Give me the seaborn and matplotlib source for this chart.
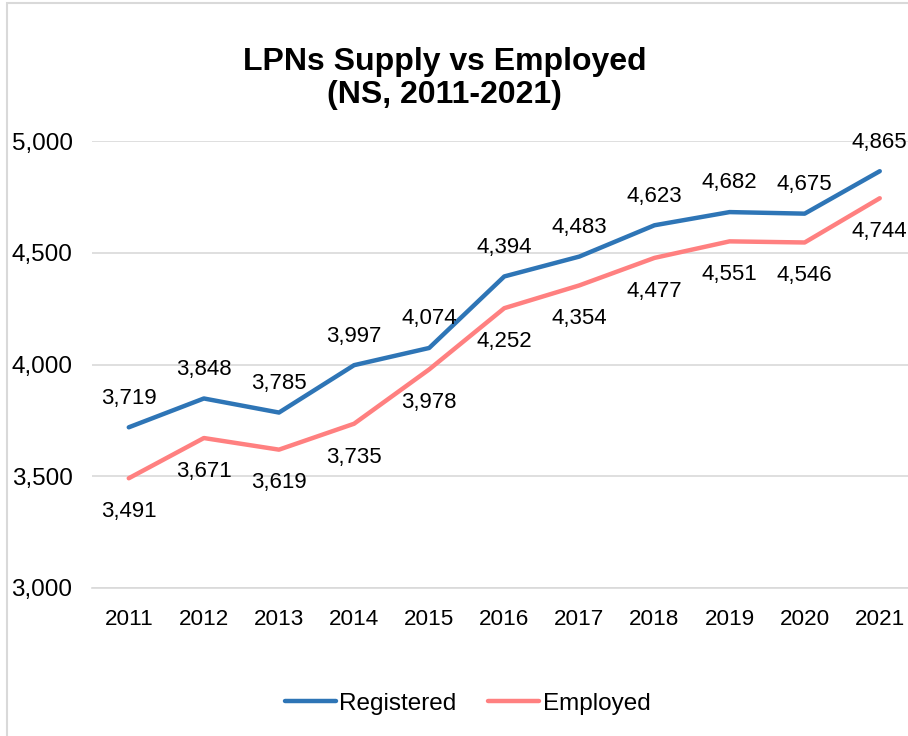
import numpy as np
import pandas as pd
import matplotlib
matplotlib.use("Agg")
import matplotlib.pyplot as plt
import seaborn as sns
from matplotlib.patches import Rectangle

sns.set_style("white")
plt.rcParams['font.family'] = ['Liberation Sans', 'DejaVu Sans']
plt.rcParams['text.color'] = 'black'
plt.rcParams['xtick.color'] = 'black'
plt.rcParams['ytick.color'] = 'black'

# data
years = [2011, 2012, 2013, 2014, 2015, 2016, 2017, 2018, 2019, 2020, 2021]
registered = [3719, 3848, 3785, 3997, 4074, 4394, 4483, 4623, 4682, 4675, 4865]
employed = [3491, 3671, 3619, 3735, 3978, 4252, 4354, 4477, 4551, 4546, 4744]

df = pd.DataFrame({
    "idx": list(range(len(years))) * 2,
    "value": registered + employed,
    "series": ["Registered"] * len(years) + ["Employed"] * len(years),
})

colors = {"Registered": "#2E75B6", "Employed": "#FF8080"}

fig = plt.figure(figsize=(9.08, 7.36), dpi=100)
ax = fig.add_axes([0.1013, 0.2011, 0.8987, 0.6073])

sns.lineplot(data=df, x="idx", y="value", hue="series", palette=colors,
             linewidth=3.2, ax=ax, legend=False)
for line in ax.lines:
    line.set_solid_capstyle("round")

ax.set_xlim(-0.49, 10.376)
ax.set_ylim(3000, 5000)
ax.set_yticks([3000, 3500, 4000, 4500, 5000])
ax.set_yticklabels([f"{v:,}" for v in [3000, 3500, 4000, 4500, 5000]], fontsize=17.5)
ax.set_xticks(range(len(years)))
ax.set_xticklabels([str(y) for y in years], fontsize=16.2)
ax.tick_params(axis="x", pad=15, length=0)
ax.tick_params(axis="y", pad=14, length=0)
ax.set_xlabel("")
ax.set_ylabel("")
ax.grid(axis="y", color="#d9d9d9", linewidth=1.2)
ax.set_axisbelow(True)
for s in ["left", "right", "top"]:
    ax.spines[s].set_visible(False)
ax.spines["bottom"].set_color("#d9d9d9")
ax.spines["bottom"].set_linewidth(1.2)

# data labels
for i, (r, e) in enumerate(zip(registered, employed)):
    ax.annotate(f"{r:,}", (i, r), xytext=(0, 21), textcoords="offset points",
                ha="center", va="center", fontsize=16)
    ax.annotate(f"{e:,}", (i, e), xytext=(0, -24), textcoords="offset points",
                ha="center", va="center", fontsize=16)

fig.text(0.49, 0.893, "LPNs Supply vs Employed\n(NS, 2011-2021)", ha="center",
         va="center", fontsize=23, fontweight="bold", linespacing=1.15)

handles = [plt.Line2D([], [], color=colors[k], linewidth=3.2, solid_capstyle="round")
           for k in ["Registered", "Employed"]]
fig.legend(handles, ["Registered", "Employed"], loc="center", bbox_to_anchor=(0.515, 0.044),
           ncol=2, frameon=False, fontsize=17.5, handlelength=2.1, handletextpad=0.15,
           columnspacing=1.3)

fig.add_artist(Rectangle((0.008, -0.1), 1.1, 1.096, transform=fig.transFigure,
                         fill=False, edgecolor="#d9d9d9", linewidth=1.5))

fig.savefig("out.png", dpi=100)
